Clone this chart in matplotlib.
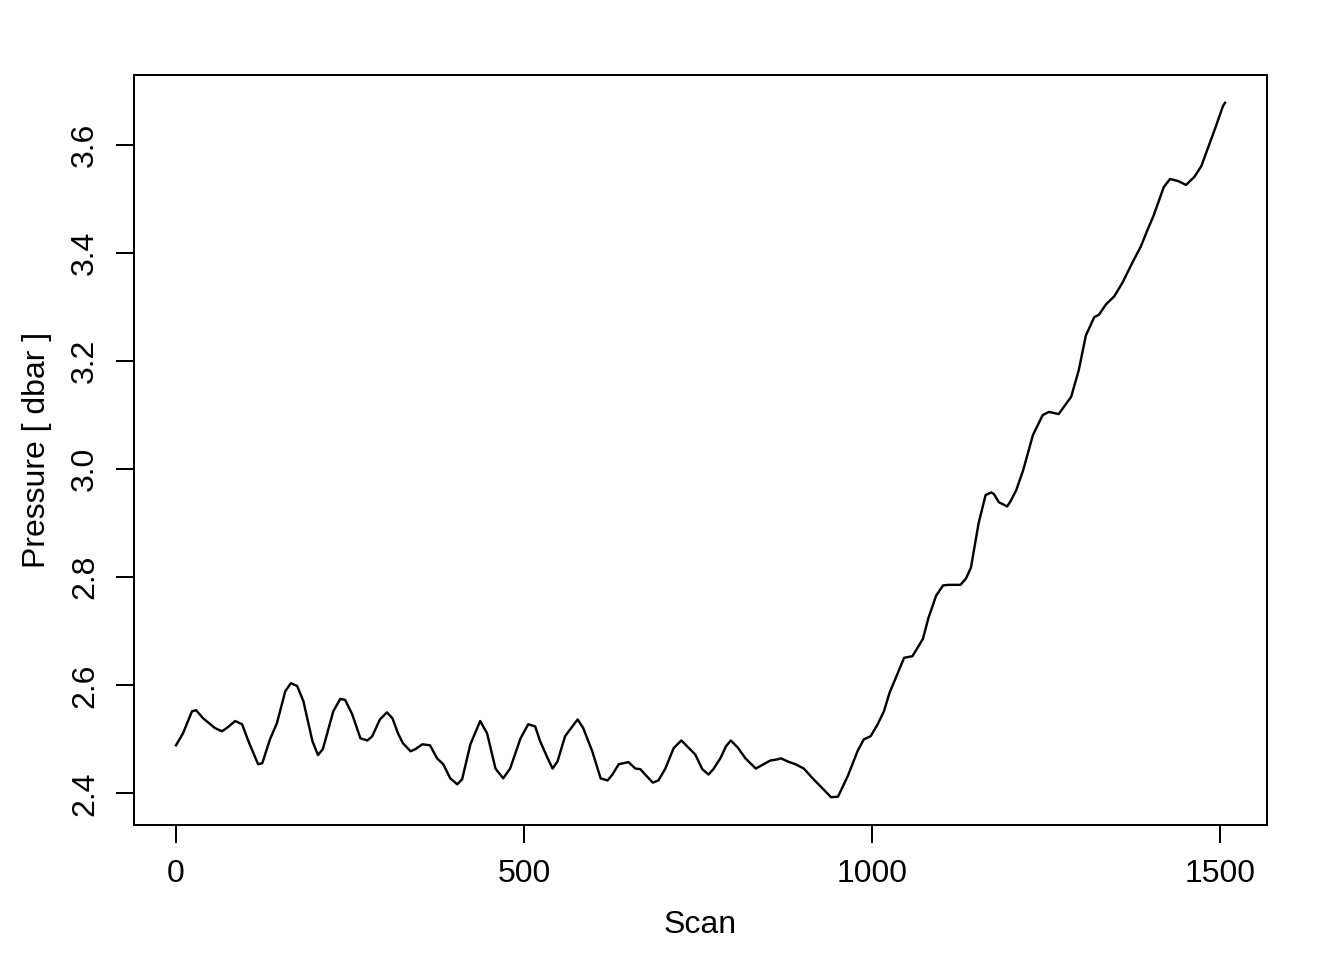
import matplotlib
matplotlib.use("Agg")
import matplotlib.pyplot as plt
import numpy as np

plt.rcParams['font.family'] = ['Liberation Sans', 'DejaVu Sans']

scan = [0, 10, 23, 29, 39, 56, 66, 73, 85, 95, 104, 118, 124, 135, 145, 157, 165, 174,
        183, 196, 204, 211, 226, 236, 243, 253, 265, 275, 282, 293, 303, 311, 319, 326,
        337, 344, 354, 365, 375, 384, 394, 404, 411, 423, 437, 447, 459, 470, 480, 495,
        506, 516, 523, 534, 541, 548, 559, 577, 585, 598, 610, 620, 627, 636, 650, 660,
        667, 674, 685, 693, 703, 715, 726, 736, 746, 756, 765, 772, 782, 790, 797, 807,
        818, 833, 844, 854, 864, 869, 879, 890, 902, 916, 926, 941, 951, 965, 979, 988,
        998, 1008, 1017, 1025, 1034, 1046, 1058, 1073, 1081, 1092, 1102, 1110, 1127,
        1135, 1142, 1153, 1163, 1171, 1175, 1182, 1194, 1199, 1207, 1217, 1231, 1245,
        1254, 1268, 1286, 1297, 1307, 1319, 1326, 1336, 1348, 1360, 1375, 1386, 1396,
        1404, 1419, 1428, 1440, 1451, 1463, 1473, 1483, 1494, 1504, 1507]

pressure = [2.489, 2.511, 2.552, 2.554, 2.539, 2.521, 2.515, 2.521, 2.534, 2.528, 2.497,
            2.454, 2.456, 2.500, 2.530, 2.589, 2.604, 2.599, 2.571, 2.497, 2.471, 2.482,
            2.552, 2.575, 2.573, 2.547, 2.502, 2.498, 2.506, 2.537, 2.550, 2.539, 2.511,
            2.493, 2.478, 2.482, 2.491, 2.489, 2.465, 2.454, 2.428, 2.417, 2.426, 2.491,
            2.534, 2.511, 2.446, 2.428, 2.446, 2.502, 2.528, 2.524, 2.497, 2.465, 2.446,
            2.459, 2.506, 2.537, 2.521, 2.478, 2.428, 2.424, 2.435, 2.454, 2.458, 2.446,
            2.445, 2.435, 2.420, 2.424, 2.446, 2.484, 2.498, 2.485, 2.472, 2.445, 2.435,
            2.445, 2.465, 2.487, 2.498, 2.485, 2.465, 2.446, 2.454, 2.461, 2.463, 2.465,
            2.459, 2.454, 2.446, 2.426, 2.413, 2.393, 2.394, 2.432, 2.478, 2.500, 2.506,
            2.528, 2.552, 2.586, 2.614, 2.651, 2.654, 2.686, 2.725, 2.766, 2.785, 2.786,
            2.786, 2.798, 2.818, 2.900, 2.952, 2.957, 2.954, 2.939, 2.931, 2.941, 2.961,
            2.998, 3.063, 3.100, 3.106, 3.102, 3.134, 3.184, 3.247, 3.281, 3.286, 3.305,
            3.320, 3.346, 3.385, 3.412, 3.444, 3.468, 3.522, 3.537, 3.533, 3.526, 3.541,
            3.561, 3.596, 3.635, 3.672, 3.678]

x_ticks = [0, 500, 1000, 1500]
y_ticks = [2.4, 2.6, 2.8, 3.0, 3.2, 3.4, 3.6]

fig = plt.figure(figsize=(1344 / 144, 960 / 144), dpi=144)
ax = fig.add_axes([134 / 1344, 1 - 825 / 960, (1267 - 134) / 1344, (825 - 75) / 960])

ax.plot(scan, pressure, color='black', lw=1.2, solid_joinstyle='round')

def padded(vals):
    lo, hi = min(vals), max(vals)
    d = (hi - lo) * 0.04
    return lo - d, hi + d

ax.set_xlim(*padded(scan))
ax.set_ylim(*padded(pressure))

ax.set_xticks(x_ticks)
ax.set_xticklabels([str(v) for v in x_ticks])
ax.set_yticks(y_ticks)
ax.set_yticklabels([f"{v:.1f}" for v in y_ticks], rotation=90, va='center')

ax.tick_params(axis='both', direction='out', length=9, width=1, labelsize=16, pad=8, color='black')
for s in ax.spines.values():
    s.set_linewidth(1)
    s.set_color('black')

ax.set_xlabel('Scan', fontsize=16, labelpad=10.5)
ax.set_ylabel('Pressure [ dbar ]', fontsize=16, labelpad=9)

fig.savefig('out.png', dpi=144)
